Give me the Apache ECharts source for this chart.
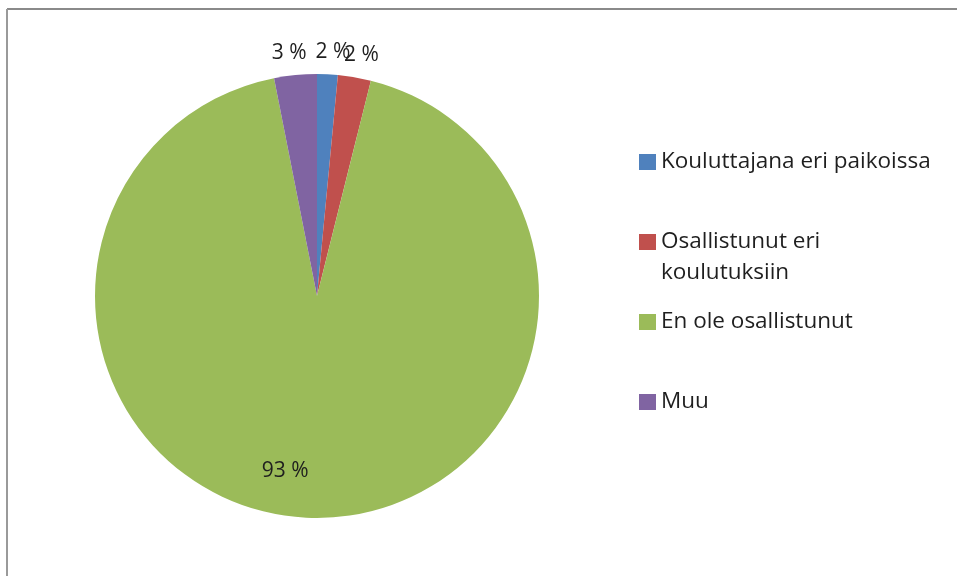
<!DOCTYPE html>
<html><head><meta charset="utf-8">
<script src="https://cdn.jsdelivr.net/npm/echarts@6/dist/echarts.min.js"></script>
<style>html,body{margin:0;padding:0;background:#fff}#c{width:957px;height:576px}</style>
</head><body><div id="c"></div>
<script>
var categories = ['Kouluttajana eri paikoissa', 'Osallistunut eri koulutuksiin', 'En ole osallistunut', 'Muu'];
var values = [1.5, 2.4, 93.0, 3.1];
var colors = ['#4F81BD', '#C0504D', '#9BBB59', '#8064A2'];
var legendCenters = [162, 242, 322, 402];

var chart = echarts.init(document.getElementById('c'));
var font = 'Open Sans';
var legends = categories.map(function (name, i) {
  var multi = name === 'Osallistunut eri koulutuksiin';
  return {
    orient: 'vertical',
    left: 639,
    top: legendCenters[i] - (multi ? 46.5 : 15.5),
    padding: 0,
    data: [name],
    icon: 'rect',
    itemWidth: 17,
    itemHeight: 16,
    selectedMode: false,
    formatter: function (n) { return multi ? '\nOsallistunut eri\nkoulutuksiin' : n; },
    textStyle: { fontFamily: font, fontSize: 22.5, color: '#1f1f1f', lineHeight: 31 }
  };
});
chart.setOption({
  animation: false,
  color: colors,
  legend: legends,
  graphic: [
    { type: 'line', shape: { x1: 7, y1: 9, x2: 957, y2: 9 }, style: { stroke: '#8a8a8a', lineWidth: 2 } },
    { type: 'line', shape: { x1: 7, y1: 9, x2: 7, y2: 576 }, style: { stroke: '#9a9a9a', lineWidth: 2 } }
  ],
  series: [{
    type: 'pie',
    center: [317, 296],
    radius: 222,
    startAngle: 90,
    clockwise: true,
    avoidLabelOverlap: false,
    itemStyle: { borderWidth: 0 },
    label: {
      show: true,
      position: 'outside',
      fontFamily: font,
      fontSize: 21,
      color: '#1f1f1f',
      formatter: function (p) { return Math.round(p.value) + ' %'; }
    },
    labelLine: { show: false, length: 12, length2: 0 },
    labelLayout: function (p) {
      if (p.dataIndex === 2) return { dx: -29, dy: 61 };
      return { align: 'center', verticalAlign: 'bottom' };
    },
    data: categories.map(function (n, i) {
      var d = { name: n, value: values[i] };
      if (i === 2) d.label = { position: 'inside' };
      return d;
    })
  }]
});
</script></body></html>
